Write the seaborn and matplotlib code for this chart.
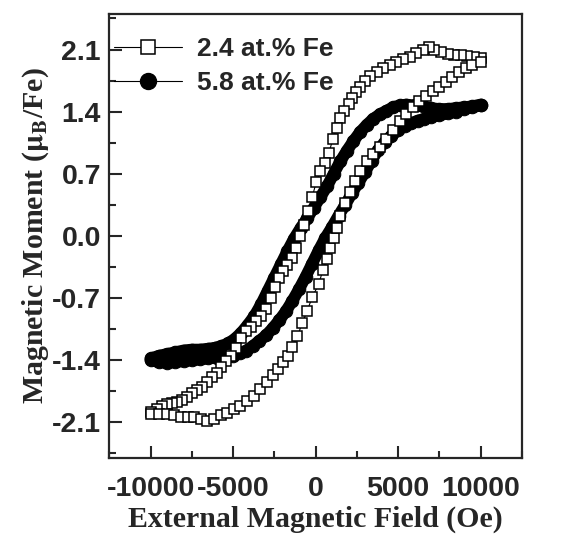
import matplotlib
matplotlib.use('Agg')
import matplotlib.pyplot as plt
from matplotlib.lines import Line2D
from matplotlib.ticker import MultipleLocator
import seaborn as sns
import pandas as pd

# 2.4 at.% Fe, field going down (+10 kOe -> -10 kOe)
h24_down = [10000, 9600, 9200, 8800, 8400, 8000, 7600, 7200, 6900, 6500, 6100, 5700,
            5300, 4900, 4500, 4100, 3700, 3300, 3000, 2700, 2450, 2200, 2000, 1750,
            1500, 1300, 1050, 800, 550, 300, 50, -200, -450, -700, -950, -1200, -1450,
            -1700, -1950, -2200, -2450, -2700, -3000, -3300, -3600, -3900, -4200,
            -4500, -4800, -5100, -5400, -5700, -6000, -6300, -6600, -6900, -7200,
            -7500, -7800, -8100, -8400, -8700, -9000, -9300, -9600, -10000]
m24_down = [2.01, 2.02, 2.03, 2.04, 2.04, 2.05, 2.07, 2.10, 2.13, 2.09, 2.06, 2.02,
            1.99, 1.96, 1.93, 1.89, 1.85, 1.80, 1.75, 1.68, 1.62, 1.55, 1.49, 1.41,
            1.33, 1.22, 1.09, 0.93, 0.82, 0.73, 0.61, 0.44, 0.28, 0.12, 0.00, -0.13,
            -0.25, -0.33, -0.40, -0.47, -0.58, -0.70, -0.82, -0.90, -0.96, -1.02,
            -1.07, -1.15, -1.26, -1.35, -1.41, -1.48, -1.54, -1.59, -1.65, -1.70,
            -1.74, -1.77, -1.81, -1.85, -1.87, -1.88, -1.89, -1.92, -1.95, -1.98]

# 2.4 at.% Fe, field going up (-10 kOe -> +10 kOe)
h24_up = [-10000, -9500, -9000, -8550, -8150, -7750, -7350, -6950, -6550, -6150,
          -5750, -5350, -4950, -4550, -4150, -3750, -3350, -2950, -2550, -2250,
          -1950, -1650, -1400, -1100, -800, -500, -200, 200, 450, 700, 900, 1100,
          1300, 1500, 1800, 2100, 2400, 2700, 3100, 3500, 3900, 4300, 4700, 5100,
          5500, 5900, 6300, 6700, 7100, 7500, 7900, 8300, 8700, 9100, 9500, 10000]
m24_up = [-2.01, -2.01, -2.01, -2.02, -2.04, -2.04, -2.04, -2.06, -2.08, -2.06,
          -2.02, -1.99, -1.95, -1.91, -1.86, -1.80, -1.72, -1.65, -1.57, -1.50,
          -1.42, -1.35, -1.25, -1.13, -0.98, -0.84, -0.69, -0.54, -0.38, -0.26,
          -0.14, -0.02, 0.09, 0.22, 0.37, 0.50, 0.62, 0.73, 0.84, 0.92, 1.00, 1.09,
          1.19, 1.29, 1.37, 1.45, 1.52, 1.58, 1.63, 1.68, 1.73, 1.79, 1.85, 1.89,
          1.93, 1.96]

# 5.8 at.% Fe, field going down
h58_down = [10000, 9500, 9000, 8500, 8000, 7500, 7000, 6500, 6000, 5500, 5100, 4700,
            4300, 3900, 3500, 3100, 2700, 2300, 1900, 1500, 1100, 700, 300, -100,
            -500, -900, -1300, -1700, -2100, -2500, -2900, -3300, -3700, -4100,
            -4500, -4900, -5300, -5700, -6100, -6500, -7000, -7500, -8000, -8500,
            -9000, -9500, -10000]
m58_down = [1.48, 1.46, 1.45, 1.44, 1.43, 1.43, 1.44, 1.46, 1.47, 1.48, 1.47, 1.45,
            1.41, 1.37, 1.32, 1.25, 1.17, 1.07, 0.96, 0.84, 0.70, 0.56, 0.44, 0.32,
            0.20, 0.09, -0.03, -0.17, -0.32, -0.47, -0.62, -0.77, -0.90, -1.00,
            -1.09, -1.16, -1.21, -1.24, -1.26, -1.27, -1.28, -1.28, -1.29, -1.31,
            -1.33, -1.35, -1.38]

# 5.8 at.% Fe, field going up
h58_up = [-10000, -9500, -9000, -8500, -8000, -7500, -7000, -6500, -6000, -5500,
          -5000, -4600, -4200, -3800, -3400, -3000, -2600, -2200, -1800, -1400,
          -1000, -600, -200, 200, 600, 1000, 1400, 1800, 2200, 2600, 3000, 3400,
          3800, 4200, 4600, 5000, 5400, 5800, 6200, 6600, 7000, 7500, 8000, 8500,
          9000, 9500, 10000]
m58_up = [-1.40, -1.42, -1.43, -1.42, -1.41, -1.40, -1.39, -1.38, -1.37, -1.37,
          -1.35, -1.32, -1.29, -1.24, -1.18, -1.12, -1.04, -0.95, -0.85, -0.73,
          -0.60, -0.46, -0.31, -0.16, -0.02, 0.10, 0.23, 0.35, 0.48, 0.60, 0.72,
          0.85, 0.97, 1.06, 1.13, 1.19, 1.24, 1.27, 1.30, 1.32, 1.34, 1.36, 1.38,
          1.40, 1.43, 1.45, 1.47]

labels = ['2.4 at.% Fe', '5.8 at.% Fe']

sns.set_style('ticks')
plt.rcParams['font.family'] = ['Liberation Sans', 'DejaVu Sans']
plt.rcParams['mathtext.fontset'] = 'stix'

loop24 = pd.DataFrame({'H': h24_down + h24_up, 'M': m24_down + m24_up})
loop58 = pd.DataFrame({'H': h58_down + h58_up, 'M': m58_down + m58_up})

fig = plt.figure(figsize=(5.69, 5.40), dpi=100)
ax = fig.add_axes([0.192, 0.152, 0.725, 0.822])

sns.lineplot(data=loop58, x='H', y='M', sort=False, estimator=None, ax=ax,
             color='black', linewidth=8.5, marker='o', markersize=9,
             markeredgecolor='black', markerfacecolor='black')
sns.lineplot(data=loop24, x='H', y='M', sort=False, estimator=None, ax=ax,
             color='black', linewidth=0.8, marker='s', markersize=7,
             markeredgewidth=1.1, markeredgecolor='black', markerfacecolor='white')

ax.set_xlim(-12500, 12500)
ax.set_ylim(-2.5, 2.5)
ax.set_xticks([-10000, -5000, 0, 5000, 10000])
ax.set_xticklabels(['-10000', '-5000', '0', '5000', '10000'])
ax.xaxis.set_minor_locator(MultipleLocator(2500))
ax.set_yticks([-2.1, -1.4, -0.7, 0.0, 0.7, 1.4, 2.1])
ax.set_yticklabels(['-2.1', '-1.4', '-0.7', '0.0', '0.7', '1.4', '2.1'])
ax.yaxis.set_minor_locator(MultipleLocator(0.35))

ax.tick_params(which='both', direction='in', top=False, right=False, width=1.5)
ax.tick_params(which='major', length=9, labelsize=20.5)
ax.tick_params(axis='x', which='major', pad=13)
ax.tick_params(axis='y', which='major', pad=6)
ax.tick_params(which='minor', length=5)
for lab in ax.get_xticklabels() + ax.get_yticklabels():
    lab.set_fontweight('bold')
for sp in ax.spines.values():
    sp.set_linewidth(1.6)
    sp.set_visible(True)

ax.set_xlabel('External Magnetic Field (Oe)', family='Liberation Serif',
              fontweight='bold', fontsize=21.5, labelpad=3)
ax.set_ylabel(r'Magnetic Moment ($\mathbf{\mu_B}$/Fe)', family='Liberation Serif',
              fontweight='bold', fontsize=21.5, labelpad=1)

handles = [
    Line2D([], [], color='black', lw=0.8, marker='s', markersize=10.5,
           markerfacecolor='white', markeredgecolor='black', markeredgewidth=1.1),
    Line2D([], [], color='black', lw=0.8, marker='o', markersize=11.5,
           markerfacecolor='black', markeredgecolor='black'),
]
leg = ax.legend(handles, labels, loc='upper left', bbox_to_anchor=(-0.024, 0.98),
                frameon=False,
                prop={'family': 'Liberation Sans', 'weight': 'bold', 'size': 19},
                handlelength=2.6, handletextpad=0.55, borderaxespad=0.1,
                labelspacing=0.38, borderpad=0.45)

fig.savefig('out.png', dpi=100)
